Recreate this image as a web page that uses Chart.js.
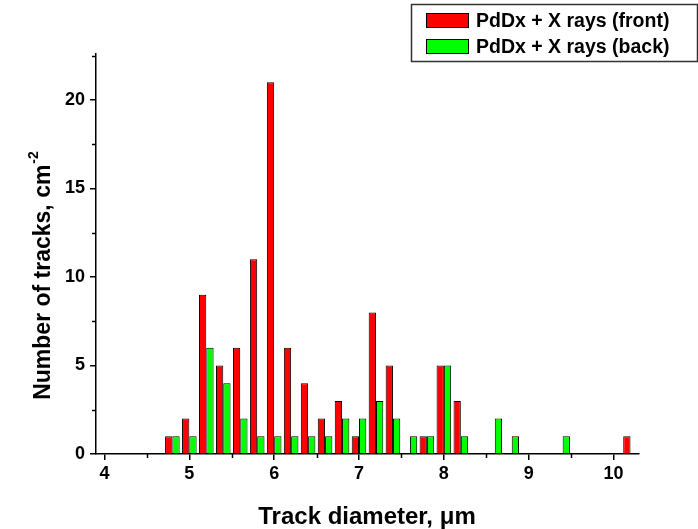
<!DOCTYPE html>
<html>
<head>
<meta charset="utf-8">
<script src="https://cdn.jsdelivr.net/npm/chart.js@4/dist/chart.umd.min.js"></script>
<style>
  html, body { margin: 0; padding: 0; background: #fff; }
  #wrap { width: 698px; height: 529px; position: relative; }
</style>
</head>
<body>
<div id="wrap"><canvas id="c" width="698" height="529"></canvas></div>
<script>
// ---- data ----
const diameters = [4.8, 5.0, 5.2, 5.4, 5.6, 5.8, 6.0, 6.2, 6.4, 6.6, 6.8, 7.0, 7.2, 7.4,
                   7.6, 7.8, 8.0, 8.2, 8.4, 8.6, 8.8, 9.0, 9.2, 9.4, 9.6, 9.8, 10.0, 10.2];
const frontCounts = [1, 2, 9, 5, 6, 11, 21, 6, 4, 2, 3, 1, 8, 5,
                     null, 1, 5, 3, null, null, null, null, null, null, null, null, null, 1];
const backCounts  = [1, 1, 6, 4, 2, 1, 1, 1, 1, 1, 2, 2, 3, 2,
                     1, 1, 5, 1, null, 2, 1, null, null, 1, null, null, null, null];
const seriesLabels = ['PdDx + X rays (front)', 'PdDx + X rays (back)'];
const xTitle = 'Track diameter, \u03BCm';
const yTitle = 'Number of tracks, cm';
const yTitleSup = '-2';

const FONT = '"Liberation Sans", Arial, sans-serif';

function toPoints(vals) {
  return diameters.map((d, i) => ({ x: d, y: vals[i] }));
}

// minor ticks + axis titles + legend plugin
const decor = {
  id: 'decor',
  afterDraw(chart) {
    const ctx = chart.ctx;
    const xs = chart.scales.x, ys = chart.scales.y;
    const ca = chart.chartArea;
    ctx.save();
    ctx.strokeStyle = '#000';
    ctx.lineWidth = 1.5;
    // minor ticks x
    for (let v = 4.5; v < xs.max; v += 1) {
      const px = Math.round(xs.getPixelForValue(v)) + 0.5;
      ctx.beginPath(); ctx.moveTo(px, ca.bottom); ctx.lineTo(px, ca.bottom + 4); ctx.stroke();
    }
    for (let v = 2.5; v < ys.max; v += 5) {
      const py = Math.round(ys.getPixelForValue(v)) + 0.5;
      ctx.beginPath(); ctx.moveTo(ca.left, py); ctx.lineTo(ca.left - 4, py); ctx.stroke();
    }
    // x title
    ctx.fillStyle = '#000';
    ctx.font = 'bold 24px ' + FONT;
    ctx.textAlign = 'center';
    ctx.textBaseline = 'alphabetic';
    ctx.fillText(xTitle, 367, 524);
    // y title (rotated) with superscript
    ctx.save();
    ctx.translate(50, 276);
    ctx.rotate(-Math.PI / 2);
    ctx.font = 'bold 23px ' + FONT;
    const w1 = ctx.measureText(yTitle).width;
    ctx.font = 'bold 14px ' + FONT;
    const w2 = ctx.measureText(yTitleSup).width;
    const start = -(w1 + w2) / 2;
    ctx.textAlign = 'left';
    ctx.font = 'bold 23px ' + FONT;
    ctx.fillText(yTitle, start, 0);
    ctx.font = 'bold 14px ' + FONT;
    ctx.fillText(yTitleSup, start + w1 + 1, -12);
    ctx.restore();
    // legend
    const lx = 411, ly = 4, lw = 286, lh = 57;
    ctx.fillStyle = '#fff';
    ctx.fillRect(lx, ly, lw, lh);
    ctx.strokeStyle = '#333';
    ctx.lineWidth = 1.5;
    ctx.strokeRect(lx + 0.5, ly + 0.5, lw, lh);
    chart.data.datasets.forEach((ds, i) => {
      const sy = 13 + i * 26;
      ctx.fillStyle = ds.backgroundColor;
      ctx.fillRect(426, sy, 43, 15);
      ctx.strokeStyle = '#000';
      ctx.lineWidth = 1;
      ctx.strokeRect(426.5, sy + 0.5, 42, 14);
      ctx.fillStyle = '#000';
      ctx.font = 'bold 19.5px ' + FONT;
      ctx.textAlign = 'left';
      ctx.fillText(ds.label, 476, sy + 14);
    });
    ctx.restore();
  }
};

new Chart(document.getElementById('c'), {
  type: 'bar',
  data: {
    datasets: [
      { label: seriesLabels[0], data: toPoints(frontCounts), backgroundColor: '#ff0000',
        borderColor: '#000', borderWidth: 1, categoryPercentage: 0.86, barPercentage: 1.0 },
      { label: seriesLabels[1], data: toPoints(backCounts), backgroundColor: '#00ff00',
        borderColor: '#000', borderWidth: 1, categoryPercentage: 0.86, barPercentage: 1.0 }
    ]
  },
  options: {
    responsive: false,
    animation: false,
    layout: { padding: { left: 0, top: 54, right: 59, bottom: 0 } },
    plugins: { legend: { display: false }, tooltip: { enabled: false } },
    scales: {
      x: {
        type: 'linear', min: 3.9, max: 10.3, offset: false,
        ticks: { stepSize: 1, includeBounds: false, color: '#000', padding: 3,
                 font: { family: FONT, size: 18, weight: 'bold' } },
        grid: { drawOnChartArea: false, drawTicks: true, tickLength: 6, color: '#000', lineWidth: 1.5, offset: false },
        border: { display: true, color: '#000', width: 1.5 },
        afterFit(s) { s.height = 75; }
      },
      y: {
        type: 'linear', min: 0, max: 22.6,
        ticks: { stepSize: 5, includeBounds: false, color: '#000', padding: 5,
                 font: { family: FONT, size: 18, weight: 'bold' } },
        grid: { drawOnChartArea: false, drawTicks: true, tickLength: 6, color: '#000', lineWidth: 1.5 },
        border: { display: true, color: '#000', width: 1.5 },
        afterFit(s) { s.width = 96; }
      }
    }
  },
  plugins: [decor]
});
</script>
</body>
</html>
